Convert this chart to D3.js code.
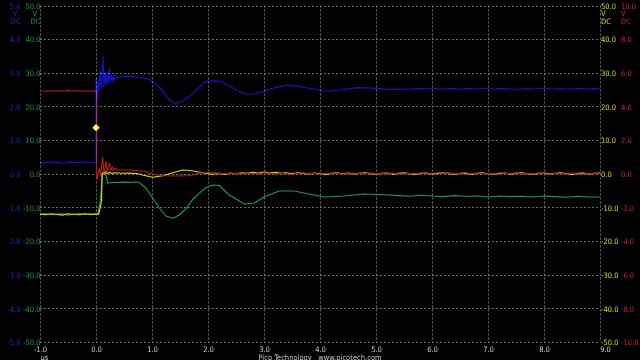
<!DOCTYPE html>
<html><head><meta charset="utf-8">
<script src="https://cdn.jsdelivr.net/npm/d3@7"></script>
<style>
html,body{margin:0;padding:0;background:#000;}
svg{display:block;background:#000;}
text{font-family:"Liberation Sans Narrow","DejaVu Sans Condensed","Liberation Sans",sans-serif;font-size:7.5px;}
</style></head><body>
<svg id="c" width="640" height="360"></svg>
<script>
// ---- tick labels ----
const timeTicks = [-1,0,1,2,3,4,5,6,7,8,9];
const ticksA = [5,4,3,2,1,0,-1,-2,-3,-4,-5];
const ticksB = [50,40,30,20,10,0,-10,-20,-30,-40,-50];
const ticksC = [50,40,30,20,10,0,-10,-20,-30,-40,-50];
const ticksD = [10,8,6,4,2,0,-2,-4,-6,-8,-10];
const units = ["V","DC"];
const timeUnit = "µs";
const footer = "Pico Technology   www.picotech.com";

// ---- trigger marker [time µs, level V on channel C] ----
const trigger = [0, 13.7];

// ---- Channel A (blue, ±5 V) [t µs, V] ----
const chA = [
 [-1.0,0.33],[-0.9,0.33],[-0.85,0.36],[-0.8,0.33],[-0.7,0.34],[-0.6,0.32],[-0.5,0.33],[-0.45,0.36],[-0.4,0.33],
 [-0.3,0.34],[-0.2,0.32],[-0.15,0.35],[-0.1,0.33],[0.0,0.33],
 [0.0,2.85],[0.010,2.14],[0.035,2.74],[0.055,2.45],[0.075,3.08],[0.095,2.51],[0.125,3.48],[0.140,2.59],
 [0.165,3.03],[0.180,2.64],[0.205,2.99],[0.220,2.69],[0.240,3.14],[0.255,2.74],[0.280,2.93],[0.295,2.74],
 [0.320,2.93],[0.335,2.79],[0.37,2.87],[0.42,2.87],[0.5,2.89],[0.59,2.90],[0.68,2.88],[0.77,2.87],[0.95,2.81],
 [1.13,2.59],[1.31,2.19],[1.40,2.10],[1.49,2.11],[1.67,2.29],[1.84,2.57],[1.97,2.74],[2.11,2.76],[2.24,2.73],
 [2.38,2.61],[2.56,2.44],[2.70,2.36],[2.83,2.37],[2.95,2.43],[3.09,2.51],[3.27,2.59],[3.45,2.63],[3.63,2.59],
 [3.81,2.54],[3.99,2.49],[4.17,2.46],[4.34,2.48],[4.52,2.53],[4.70,2.56],[4.88,2.55],[5.06,2.53],[5.2,2.51],
 [5.33,2.50],[5.45,2.52],[5.6,2.51],[5.75,2.53],[5.9,2.52],[6.05,2.54],[6.2,2.52],[6.35,2.53],[6.5,2.51],
 [6.65,2.53],[6.8,2.52],[6.95,2.54],[7.1,2.52],[7.25,2.53],[7.4,2.52],[7.55,2.51],[7.7,2.53],[7.85,2.52],
 [8.0,2.54],[8.15,2.52],[8.3,2.53],[8.45,2.51],[8.6,2.53],[8.75,2.52],[8.9,2.53],[9.0,2.52]
];

// ---- Channel B (green, ±50 V) ----
const chB = [
 [-1.0,-12.05],[-0.9,-11.8],[-0.8,-12.2],[-0.7,-12.0],[-0.6,-11.9],[-0.5,-12.3],[-0.4,-12.0],[-0.3,-11.8],
 [-0.2,-12.1],[-0.1,-12.0],[0.0,-11.9],[0.04,-11.66],[0.077,-7.80],[0.10,-3.85],[0.118,-0.37],[0.16,0.61],
 [0.20,-1.86],[0.21,-2.84],[0.3,-2.54],[0.4,-2.6],[0.5,-2.5],[0.6,-2.6],[0.7,-2.45],[0.77,-2.54],[0.89,-4.23],
 [1.01,-7.21],[1.13,-10.18],[1.25,-12.56],[1.37,-13.24],[1.49,-12.26],[1.61,-10.27],[1.72,-7.80],[1.84,-5.81],
 [1.96,-4.15],[2.08,-3.34],[2.2,-3.49],[2.38,-6.32],[2.65,-8.99],[2.83,-8.69],[3.0,-6.91],[3.27,-5.13],
 [3.54,-5.13],[3.8,-6.02],[4.08,-6.91],[4.43,-6.61],[4.79,-6.02],[5.24,-6.32],[5.4,-6.5],[5.6,-6.7],[5.8,-6.4],
 [6.0,-6.6],[6.2,-6.8],[6.4,-6.5],[6.6,-6.7],[6.8,-6.6],[7.0,-6.9],[7.2,-6.6],[7.4,-6.8],[7.6,-6.7],[7.8,-6.9],
 [8.0,-6.6],[8.2,-6.8],[8.4,-7.0],[8.6,-6.7],[8.8,-6.9],[9.0,-6.9]
];

// ---- Channel C (yellow, ±50 V) ----
const chC = [
 [-1.0,-12.0],[-0.9,-12.2],[-0.8,-11.9],[-0.7,-12.1],[-0.6,-12.3],[-0.5,-11.9],[-0.4,-12.1],[-0.3,-12.2],
 [-0.2,-11.9],[-0.1,-12.1],[0.0,-12.0],[0.05,-12.0],[0.10,-8.0],[0.107,-0.37],[0.118,0.43],[0.14,-0.1],
 [0.17,0.6],[0.2,0.0],[0.24,0.45],[0.28,0.1],[0.35,0.3],[0.45,0.13],[0.6,0.2],[0.75,0.0],[0.83,-0.37],
 [1.01,-1.05],[1.19,-0.58],[1.37,0.31],[1.55,1.11],[1.72,0.91],[1.90,0.31],[2.08,-0.16],
 [2.2,0.1],[2.3,-0.2],[2.4,0.2],[2.5,0.0],[2.6,0.3],[2.7,0.1],[2.8,0.4],[2.9,0.2],[3.0,0.5],[3.1,0.2],[3.2,0.4],
 [3.3,0.1],[3.4,0.3],[3.5,0.0],[3.6,0.3],[3.7,0.1],[3.8,-0.1],[3.9,0.2],[4.0,0.0],[4.1,-0.2],[4.2,0.1],[4.3,0.3],
 [4.4,0.0],[4.5,0.2],[4.6,-0.1],[4.7,0.1],[4.8,0.3],[4.9,0.0],[5.0,-0.2],[5.1,0.1],[5.2,0.2],[5.3,-0.1],[5.4,0.1],
 [5.5,0.3],[5.6,0.0],[5.7,-0.2],[5.8,0.1],[5.9,0.2],[6.0,-0.1],[6.1,0.1],[6.2,0.3],[6.3,0.0],[6.4,-0.2],[6.5,0.1],
 [6.6,0.2],[6.7,-0.1],[6.8,0.1],[6.9,0.3],[7.0,0.0],[7.1,-0.2],[7.2,0.1],[7.3,0.2],[7.4,-0.1],[7.5,0.1],[7.6,0.3],
 [7.7,0.0],[7.8,-0.2],[7.9,0.1],[8.0,0.2],[8.1,-0.1],[8.2,0.1],[8.3,0.3],[8.4,0.0],[8.5,-0.2],[8.6,0.1],[8.7,0.2],
 [8.8,-0.1],[8.9,0.1],[9.0,0.2]
];

// ---- Channel D (red, ±10 V) ----
const chD = [
 [-1.0,4.92],[-0.9,4.92],[-0.8,4.92],[-0.7,4.93],[-0.6,4.92],[-0.52,4.92],[-0.5,4.98],[-0.47,4.92],[-0.4,4.92],
 [-0.3,4.93],[-0.2,4.92],[-0.1,4.92],[0.01,4.92],[0.01,-0.23],[0.03,-0.23],[0.06,0.34],[0.08,-0.13],[0.12,1.01],
 [0.14,-0.01],[0.18,0.72],[0.20,0.10],[0.24,0.64],[0.26,0.16],[0.29,0.42],[0.31,0.19],[0.34,0.34],[0.38,0.22],
 [0.59,0.22],[0.86,0.16],[1.04,-0.04],[1.22,-0.12],[1.49,-0.13],[1.70,-0.10],[1.84,0.04],[2.03,0.07],[2.2,0.02],
 [2.38,0.01],[2.5,0.02],[2.6,-0.03],[2.7,0.04],[2.8,0.00],[2.9,-0.02],[3.0,0.05],[3.1,0.01],[3.2,-0.03],[3.3,0.03],
 [3.4,0.00],[3.5,-0.04],[3.6,0.02],[3.7,0.05],[3.8,-0.01],[3.9,0.02],[4.0,-0.03],[4.1,0.03],[4.2,0.00],[4.3,0.04],
 [4.4,-0.02],[4.5,0.01],[4.6,-0.04],[4.7,0.03],[4.8,0.00],[4.9,0.05],[5.0,-0.02],[5.1,0.02],[5.2,-0.01],[5.3,0.04],
 [5.4,0.00],[5.5,-0.03],[5.6,0.03],[5.7,0.01],[5.8,-0.02],[5.9,0.04],[6.0,0.00],[6.1,-0.03],[6.2,0.02],[6.3,0.05],
 [6.4,-0.01],[6.5,0.02],[6.6,-0.04],[6.7,0.03],[6.8,0.00],[6.9,0.04],[7.0,-0.02],[7.1,0.01],[7.2,-0.03],[7.3,0.03],
 [7.4,0.00],[7.5,0.05],[7.6,-0.02],[7.7,0.02],[7.8,-0.01],[7.9,0.04],[8.0,0.00],[8.1,-0.03],[8.2,0.03],[8.3,0.01],
 [8.4,-0.02],[8.5,0.04],[8.6,0.00],[8.7,-0.03],[8.8,0.02],[8.9,0.01],[9.0,0.00]
];

// ---- layout / styles ----
const L = 40, R = 600, T = 5.5, B = 342;
const colA = "#1414cc", colB = "#16a04c", colC = "#e0e000", colD = "#b81c1c";
const labA = "#2424d0", labB = "#0f9a48", labC = "#dede10", labD = "#d02020", labX = "#d0d0d0";
const FONT = '"Liberation Sans Narrow","DejaVu Sans Condensed","Liberation Sans",sans-serif';

const svg = d3.select("#c");
const x  = d3.scaleLinear([-1, 9], [L, R]);
const yA = d3.scaleLinear([-5, 5], [B, T]);
const yB = d3.scaleLinear([-50, 50], [B, T]);
const yC = d3.scaleLinear([-50, 50], [B, T]);
const yD = d3.scaleLinear([-10, 10], [B, T]);
const fmt = v => v.toFixed(1);

// grid
const grid = svg.append("g").attr("stroke", "#6e6e6e").attr("stroke-width", 1).attr("stroke-dasharray", "2,2");
grid.selectAll("line.v").data(timeTicks).join("line").attr("class","v")
  .attr("x1", d => Math.round(x(d)) + 0.5).attr("x2", d => Math.round(x(d)) + 0.5)
  .attr("y1", T).attr("y2", B);
grid.selectAll("line.h").data(ticksA).join("line").attr("class","h")
  .attr("y1", d => Math.round(yA(d)) + 0.5).attr("y2", d => Math.round(yA(d)) + 0.5)
  .attr("x1", L).attr("x2", R);

// axes
function styleAxis(g, color) {
  g.select(".domain").remove();
  g.selectAll(".tick line").remove();
  g.selectAll("text").attr("fill", color).attr("font-size", 7.5).attr("font-family", FONT);
}
const axA = svg.append("g").attr("transform", "translate(20.5,0)")
  .call(d3.axisLeft(yA).tickValues(ticksA).tickFormat(fmt).tickSize(0).tickPadding(0));
styleAxis(axA, labA); axA.selectAll("text").attr("dy", "0.36em");
const axB = svg.append("g").attr("transform", "translate(40.5,0)")
  .call(d3.axisLeft(yB).tickValues(ticksB).tickFormat(fmt).tickSize(0).tickPadding(0));
styleAxis(axB, labB); axB.selectAll("text").attr("dy", "0.36em");
const axC = svg.append("g").attr("transform", "translate(600.5,0)")
  .call(d3.axisRight(yC).tickValues(ticksC).tickFormat(fmt).tickSize(0).tickPadding(0.5));
styleAxis(axC, labC); axC.selectAll("text").attr("dy", "0.36em");
const axD = svg.append("g").attr("transform", "translate(620.5,0)")
  .call(d3.axisRight(yD).tickValues(ticksD).tickFormat(fmt).tickSize(0).tickPadding(0.5));
styleAxis(axD, labD); axD.selectAll("text").attr("dy", "0.36em");
const axX = svg.append("g").attr("transform", `translate(0,${B})`)
  .call(d3.axisBottom(x).tickValues(timeTicks).tickFormat(fmt).tickSize(0).tickPadding(4.5));
styleAxis(axX, labX);
axX.selectAll(".tick").filter(d => d === 9).select("text").attr("dx", 5);

// unit labels
const unitG = svg.append("g");
[[12.5, labA, 20.5, "end"], [32.5, labB, 40.5, "end"], [601, labC, 601, "start"], [621, labD, 621, "start"]]
.forEach(([vx, col, dcx, anchor]) => {
  unitG.append("text").attr("x", vx).attr("y", 16.2).attr("fill", col).text(units[0]);
  unitG.append("text").attr("x", dcx).attr("y", 24).attr("fill", col).attr("text-anchor", anchor).text(units[1]);
});
svg.append("text").attr("x", 40.5).attr("y", 359.5).attr("fill", labX).text(timeUnit);
svg.append("text").attr("x", 320).attr("y", 359.5).attr("fill", "#c4c4c4")
  .attr("text-anchor", "middle").style("white-space", "pre").text(footer);

// traces
const traces = svg.append("g").attr("fill", "none").attr("stroke-width", 1.1).attr("stroke-linejoin", "round");
const mk = ys => d3.line().x(d => x(d[0])).y(d => ys(d[1]));
traces.append("path").datum(chB).attr("d", mk(yB)).attr("stroke", colB);
traces.append("path").datum(chC).attr("d", mk(yC)).attr("stroke", colC);
traces.append("path").datum(chD).attr("d", mk(yD)).attr("stroke", colD);
traces.append("path").datum(chA).attr("d", mk(yA)).attr("stroke", colA).style("mix-blend-mode", "screen");

// trigger marker
svg.append("path")
  .attr("d", d3.symbol(d3.symbolSquare, 22)())
  .attr("transform", `translate(${x(trigger[0])},${yC(trigger[1])}) rotate(45)`)
  .attr("fill", "#ffff40").attr("stroke", "#e8e800").attr("stroke-width", 0.8);
</script>
</body></html>
